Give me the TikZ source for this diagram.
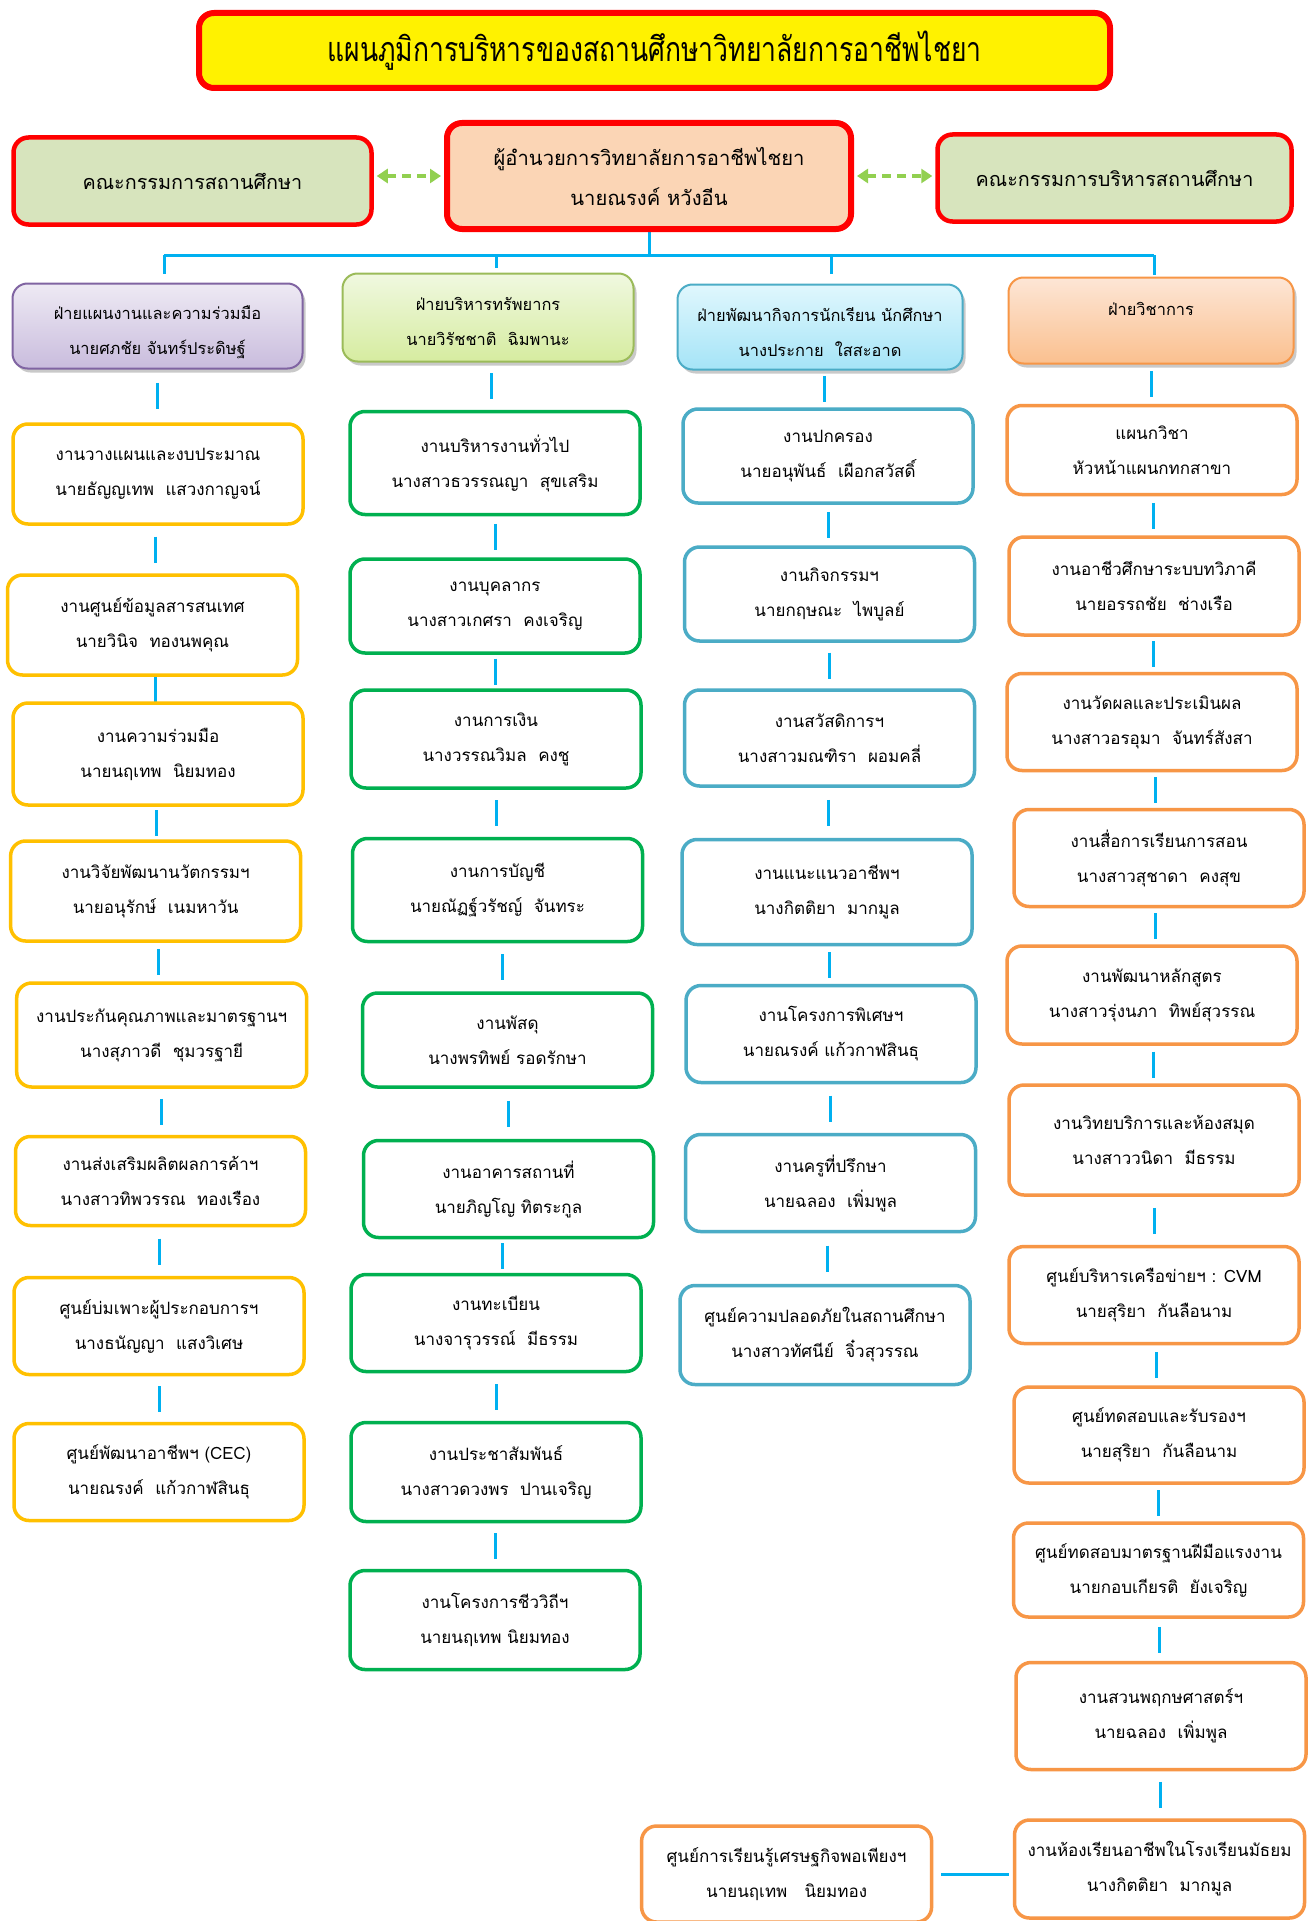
\documentclass[tikz,border=0pt]{standalone}
\usepackage{fontspec}
\usepackage{graphicx}
\setmainfont[Script=Thai]{Loma}
\usetikzlibrary{shadows,arrows.meta,backgrounds,calc}
\definecolor{cA}{HTML}{FFC000}
\definecolor{cB}{HTML}{00B050}
\definecolor{cC}{HTML}{4BACC6}
\definecolor{cD}{HTML}{F79646}
\definecolor{lnk}{HTML}{00B0F0}
\definecolor{boardfill}{HTML}{D7E4BD}
\definecolor{dirfill}{HTML}{FBD5B5}
\definecolor{arrgreen}{HTML}{92D050}
\definecolor{hAdraw}{HTML}{8064A2}
\definecolor{hAtop}{HTML}{EEEAF4}
\definecolor{hAbot}{HTML}{C9BCDD}
\definecolor{hBdraw}{HTML}{9BBB59}
\definecolor{hBtop}{HTML}{F0F8E0}
\definecolor{hBbot}{HTML}{D6ECA0}
\definecolor{hCtop}{HTML}{E0F7FD}
\definecolor{hCbot}{HTML}{A5E4F7}
\definecolor{hDtop}{HTML}{FDE6D6}
\definecolor{hDbot}{HTML}{FAC08F}
\tikzset{
  cbox/.style={draw, line width=3.5pt, rounded corners=15pt, fill=white, minimum width=290pt,
    align=center, inner sep=0pt, font=\fontsize{17}{35}\selectfont},
  boxA/.style={cbox, draw=cA},
  boxB/.style={cbox, draw=cB},
  boxC/.style={cbox, draw=cC},
  boxD/.style={cbox, draw=cD},
  headbox/.style={draw, line width=2pt, rounded corners=15pt, inner sep=0pt, shading=axis,
    drop shadow={shadow xshift=3pt, shadow yshift=-4pt, opacity=0.35, fill=black!60}},
  headtext/.style={align=center, inner sep=0pt, font=\fontsize{16.4}{35}\selectfont},
  conn/.style={draw=lnk, line width=3pt},
  dasharrow/.style={draw=arrgreen, line width=4pt, dash pattern=on 9pt off 6pt,
    {Triangle[length=11pt,width=14pt]}-{Triangle[length=11pt,width=14pt]}},
}
\newcommand\bx[7]{\node[#2, minimum height=#5pt] (#1) at (#3,#4) {#6\\#7};}
\newcommand\lk[2]{\draw[conn] ($(#1.south)!.5!(#2.north)$) ++(0,-13) -- ++(0,26);}
\begin{document}
\begin{tikzpicture}[x=1pt,y=-1pt]
\useasboundingbox (0,0) rectangle (1316,1921);
\begin{pgfonlayer}{background}
\fill[white] (0,0) rectangle (1316,1921);
\end{pgfonlayer}

% title
\node[draw=red, line width=6pt, rounded corners=15pt, fill=yellow, minimum width=911pt,
  minimum height=75pt, font=\fontsize{34}{40}\selectfont] (title) at (654.5,50.5)
  {\scalebox{0.78}[1]{แผนภูมิการบริหารของสถานศึกษาวิทยาลัยการอาชีพไชยา}};

% top row
\node[draw=red, line width=4.5pt, rounded corners=15pt, fill=boardfill, minimum width=358pt,
  minimum height=87pt, font=\fontsize{19.8}{40}\selectfont] (gb1) at (192.5,181) {คณะกรรมการสถานศึกษา};
\node[draw=red, line width=6pt, rounded corners=15pt, fill=dirfill, minimum width=404pt,
  minimum height=106pt, align=center, font=\fontsize{20.2}{40}\selectfont] (dir) at (649,176)
  {ผู้อำนวยการวิทยาลัยการอาชีพไชยา\\นายณรงค์ หวังอีน};
\node[draw=red, line width=4.5pt, rounded corners=15pt, fill=boardfill, minimum width=354pt,
  minimum height=87pt, font=\fontsize{19.8}{40}\selectfont] (gb2) at (1114.5,178) {คณะกรรมการบริหารสถานศึกษา};
\draw[dasharrow, shorten <=3pt, shorten >=3pt] (gb1.east |- dir.west) -- (dir.west);
\draw[dasharrow, shorten <=3pt, shorten >=3pt] (dir.east) -- (dir.east -| gb2.west);

% heads
\node[headbox, draw=hAdraw, top color=hAtop, bottom color=hAbot,
  minimum width=290pt, minimum height=85pt] (h1) at (157.5,326) {};
\node[headtext] (h1t) at ($(h1.center)+(0,6)$) {ฝ่ายแผนงานและความร่วมมือ\\นายศภชัย จันทร์ประดิษฐ์};
\node[headbox, draw=hBdraw, top color=hBtop, bottom color=hBbot,
  minimum width=291pt, minimum height=88pt] (h2) at (488,317.5) {};
\node[headtext] (h2t) at ($(h2.center)+(0,4)$) {ฝ่ายบริหารทรัพยากร\\นายวิรัชชาติ~~ฉิมพานะ};
\node[headbox, draw=cC, top color=hCtop, bottom color=hCbot,
  minimum width=285pt, minimum height=85pt] (h3) at (820,327) {};
\node[headtext] (h3t) at ($(h3.center)+(0,5)$) {ฝ่ายพัฒนากิจการนักเรียน นักศึกษา\\นางประกาย~~ใสสะอาด};
\node[headbox, draw=cD, top color=hDtop, bottom color=hDbot,
  minimum width=285pt, minimum height=86pt] (h4) at (1151,320.5) {};
\node[headtext] (h4t) at ($(h4.center)+(0,-12)$) {ฝ่ายวิชาการ};

% column A
\bx{a1}{boxA}{158}{474}{100}{งานวางแผนและงบประมาณ}{นายธัญญเทพ~~แสวงกาญจน์}
\bx{a2}{boxA}{152.5}{625}{100}{งานศูนย์ข้อมูลสารสนเทศ}{นายวินิจ~~ทองนพคุณ}
\bx{a3}{boxA}{158}{754}{102}{งานความร่วมมือ}{นายนฤเทพ~~นิยมทอง}
\bx{a4}{boxA}{155.6}{891}{100}{งานวิจัยพัฒนานวัตกรรมฯ}{นายอนุรักษ์~~เนมหาวัน}
\bx{a5}{boxA}{161.7}{1035}{104}{งานประกันคุณภาพและมาตรฐานฯ}{นางสุภาวดี~~ชุมวรฐายี}
\bx{a6}{boxA}{160.5}{1181}{89}{งานส่งเสริมผลิตผลการค้าฯ}{นางสาวทิพวรรณ~~ทองเรือง}
\bx{a7}{boxA}{159}{1326}{97}{ศูนย์บ่มเพาะผู้ประกอบการฯ}{นางธนัญญา~~แสงวิเศษ}
\bx{a8}{boxA}{159}{1472}{97}{ศูนย์พัฒนาอาชีพฯ (CEC)}{นายณรงค์~~แก้วกาฬสินธุ}

% column B
\bx{b1}{boxB}{495}{463}{103}{งานบริหารงานทั่วไป}{นางสาวธวรรณญา~~สุขเสริม}
\bx{b2}{boxB}{495}{606}{94}{งานบุคลากร}{นางสาวเกศรา~~คงเจริญ}
\bx{b3}{boxB}{496}{739}{98}{งานการเงิน}{นางวรรณวิมล~~คงชู}
\bx{b4}{boxB}{497.5}{890}{103}{งานการบัญชี}{นายณัฏฐ์วรัชญ์~~จันทระ}
\bx{b5}{boxB}{507.5}{1040}{94}{งานพัสดุ}{นางพรทิพย์ รอดรักษา}
\bx{b6}{boxB}{508.5}{1189}{97}{งานอาคารสถานที่}{นายภิญโญ ทิตระกูล}
\bx{b7}{boxB}{496}{1323}{97}{งานทะเบียน}{นางจารุวรรณ์~~มีธรรม}
\bx{b8}{boxB}{496}{1472}{99}{งานประชาสัมพันธ์}{นางสาวดวงพร~~ปานเจริญ}
\bx{b9}{boxB}{495}{1620}{99}{งานโครงการชีววิถีฯ}{นายนฤเทพ นิยมทอง}

% column C
\bx{c1}{boxC}{828}{456}{94}{งานปกครอง}{นายอนุพันธ์~~เผือกสวัสดิ์}
\bx{c2}{boxC}{829.5}{594}{94}{งานกิจกรรมฯ}{นายกฤษณะ~~ไพบูลย์}
\bx{c3}{boxC}{829.5}{738}{96}{งานสวัสดิการฯ}{นางสาวมณฑิรา~~ผอมคลี่}
\bx{c4}{boxC}{827}{892}{105}{งานแนะแนวอาชีพฯ}{นางกิตติยา~~มากมูล}
\bx{c5}{boxC}{831}{1034}{97}{งานโครงการพิเศษฯ}{นายณรงค์ แก้วกาฬสินธุ}
\bx{c6}{boxC}{830.5}{1183}{97}{งานครูที่ปรึกษา}{นายฉลอง~~เพิ่มพูล}
\bx{c7}{boxC}{825}{1335}{99}{ศูนย์ความปลอดภัยในสถานศึกษา}{นางสาวทัศนีย์~~จิ๋วสุวรรณ}

% column D
\bx{d1}{boxD}{1152}{450}{89}{แผนกวิชา}{หัวหน้าแผนกทกสาขา}
\bx{d2}{boxD}{1154}{586}{98}{งานอาชีวศึกษาระบบทวิภาคี}{นายอรรถชัย~~ช่างเรือ}
\bx{d3}{boxD}{1152}{722}{97}{งานวัดผลและประเมินผล}{นางสาวอรอุมา~~จันทร์สังสา}
\bx{d4}{boxD}{1159}{858}{97}{งานสื่อการเรียนการสอน}{นางสาวสุชาดา~~คงสุข}
\bx{d5}{boxD}{1152}{995}{98}{งานพัฒนาหลักสูตร}{นางสาวรุ่งนภา~~ทิพย์สุวรรณ}
\bx{d6}{boxD}{1154}{1140}{110}{งานวิทยบริการและห้องสมุด}{นางสาววนิดา~~มีธรรม}
\bx{d7}{boxD}{1154}{1295}{97}{ศูนย์บริหารเครือข่ายฯ : CVM}{นายสุริยา~~กันลือนาม}
\bx{d8}{boxD}{1159}{1435}{96}{ศูนย์ทดสอบและรับรองฯ}{นายสุริยา~~กันลือนาม}
\bx{d9}{boxD}{1158.5}{1570}{94}{ศูนย์ทดสอบมาตรฐานฝีมือแรงงาน}{นายกอบเกียรติ~~ยังเจริญ}
\bx{d10}{boxD}{1161}{1716}{107}{งานสวนพฤกษศาสตร์ฯ}{นายฉลอง~~เพิ่มพูล}
\bx{d11}{boxD}{1159.5}{1869}{98}{งานห้องเรียนอาชีพในโรงเรียนมัธยม}{นางกิตติยา~~มากมูล}
\bx{bl}{boxD}{786.6}{1874}{96}{ศูนย์การเรียนรู้เศรษฐกิจพอเพียงฯ}{นายนฤเทพ~~~นิยมทอง}

\begin{pgfonlayer}{background}
\coordinate (busL) at (164,255);
\coordinate (busR) at (1154,255);
\draw[conn] (dir.south) -- (dir.south |- busL);
\draw[conn] (busL) -- (busR);
\draw[conn, shorten >=9pt] (busL) -- (busL |- h1.north);
\draw[conn, shorten >=5pt] (h2.north |- busL) ++(8,0) -- ($(h2.north)+(8,0)$);
\draw[conn, shorten >=10pt] (h3.north |- busL) ++(11,0) -- ($(h3.north)+(11,0)$);
\draw[conn, shorten >=2pt] (busR) -- (busR |- h4.north);
\lk{h1}{a1}\lk{a1}{a2}\lk{a2}{a3}\lk{a3}{a4}\lk{a4}{a5}\lk{a5}{a6}\lk{a6}{a7}\lk{a7}{a8}
\lk{h2}{b1}\lk{b1}{b2}\lk{b2}{b3}\lk{b3}{b4}\lk{b4}{b5}\lk{b5}{b6}\lk{b6}{b7}\lk{b7}{b8}\lk{b8}{b9}
\lk{h3}{c1}\lk{c1}{c2}\lk{c2}{c3}\lk{c3}{c4}\lk{c4}{c5}\lk{c5}{c6}\lk{c6}{c7}
\lk{h4}{d1}\lk{d1}{d2}\lk{d2}{d3}\lk{d3}{d4}\lk{d4}{d5}\lk{d5}{d6}\lk{d6}{d7}\lk{d7}{d8}\lk{d8}{d9}\lk{d9}{d10}\lk{d10}{d11}
\draw[conn, shorten <=8pt, shorten >=4pt] (bl.east) -- (bl.east -| d11.west);
\end{pgfonlayer}
\end{tikzpicture}
\end{document}
